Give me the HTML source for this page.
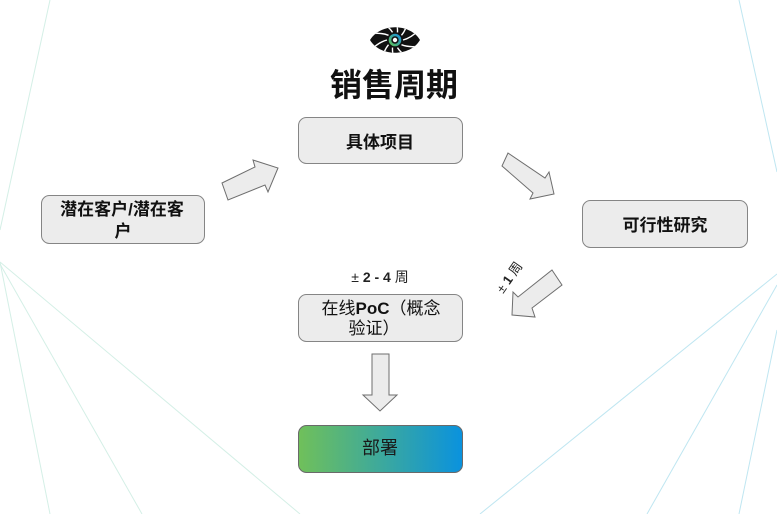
<!DOCTYPE html>
<html>
<head>
<meta charset="utf-8">
<style>
  html,body{margin:0;padding:0;background:#fff;}
  svg{display:block;}
  .t{font-family:"Liberation Sans","Noto Sans CJK SC",sans-serif;}
</style>
</head>
<body>
<svg width="777" height="514" viewBox="0 0 777 514" xmlns="http://www.w3.org/2000/svg">
  <defs>
    <linearGradient id="dep" x1="0" y1="0" x2="1" y2="0">
      <stop offset="0" stop-color="#70c05a"/>
      <stop offset="1" stop-color="#0a92de"/>
    </linearGradient>
    <linearGradient id="iris" x1="0" y1="1" x2="1" y2="0">
      <stop offset="0" stop-color="#5cc05a"/>
      <stop offset="1" stop-color="#1a90d8"/>
    </linearGradient>
    <clipPath id="eyeclip">
      <path d="M370 40 C380 23, 410 23, 420 40 C410 57, 380 57, 370 40 Z"/>
    </clipPath>
  </defs>

  <!-- background lines -->
  <g fill="none" stroke-width="1">
    <line x1="50" y1="0" x2="0" y2="230" stroke="#d4efe6"/>
    <line x1="0" y1="262" x2="50" y2="514" stroke="#d4efe6"/>
    <line x1="0" y1="264" x2="142" y2="514" stroke="#d4efe6"/>
    <line x1="0" y1="262" x2="300" y2="514" stroke="#d4efe6"/>
    <line x1="739" y1="0" x2="777" y2="172" stroke="#bfe6f1"/>
    <line x1="777" y1="274" x2="480" y2="514" stroke="#bfe6f1"/>
    <line x1="777" y1="285" x2="647" y2="514" stroke="#bfe6f1"/>
    <line x1="777" y1="330" x2="739" y2="514" stroke="#bfe6f1"/>
  </g>

  <!-- eye logo -->
  <g>
    <path d="M370 40 C380 23, 410 23, 420 40 C410 57, 380 57, 370 40 Z" fill="#111"/>
    <g clip-path="url(#eyeclip)" stroke="#fff" stroke-width="1.4" fill="none">
      <g transform="translate(395,40)">
        <path d="M8 0 Q16 -2 24 -10" transform="rotate(0)"/>
        <path d="M8 0 Q16 -2 24 -10" transform="rotate(36)"/>
        <path d="M8 0 Q16 -2 24 -10" transform="rotate(72)"/>
        <path d="M8 0 Q16 -2 24 -10" transform="rotate(108)"/>
        <path d="M8 0 Q16 -2 24 -10" transform="rotate(144)"/>
        <path d="M8 0 Q16 -2 24 -10" transform="rotate(180)"/>
        <path d="M8 0 Q16 -2 24 -10" transform="rotate(216)"/>
        <path d="M8 0 Q16 -2 24 -10" transform="rotate(252)"/>
        <path d="M8 0 Q16 -2 24 -10" transform="rotate(288)"/>
        <path d="M8 0 Q16 -2 24 -10" transform="rotate(324)"/>
      </g>
    </g>
    <circle cx="395" cy="40" r="7.5" fill="#111"/>
    <circle cx="395" cy="40" r="5" fill="none" stroke="url(#iris)" stroke-width="2.6"/>
    <circle cx="395" cy="40" r="2.2" fill="#fff"/>
  </g>

  <!-- title -->
  <text x="394" y="96" text-anchor="middle" class="t" font-size="32" font-weight="bold" fill="#111">销售周期</text>

  <!-- boxes -->
  <rect x="298.5" y="117.5" width="164" height="46" rx="8" fill="#ececec" stroke="#858585"/>
  <text x="380" y="148" text-anchor="middle" class="t" font-size="17" font-weight="bold" fill="#111">具体项目</text>

  <rect x="41.5" y="195.5" width="163" height="48" rx="8" fill="#ececec" stroke="#858585"/>
  <text x="122" y="215" text-anchor="middle" class="t" font-size="17" font-weight="bold" fill="#111">潜在客户/潜在客</text>
  <text x="123" y="237" text-anchor="middle" class="t" font-size="17" font-weight="bold" fill="#111">户</text>

  <rect x="582.5" y="200.5" width="165" height="47" rx="8" fill="#ececec" stroke="#858585"/>
  <text x="665" y="231" text-anchor="middle" class="t" font-size="17" font-weight="bold" fill="#111">可行性研究</text>

  <text x="380" y="282" text-anchor="middle" class="t" font-size="14" fill="#222">± <tspan font-weight="bold">2 - 4</tspan> 周</text>

  <rect x="298.5" y="294.5" width="164" height="47" rx="8" fill="#ececec" stroke="#858585"/>
  <text x="381" y="314" text-anchor="middle" class="t" font-size="17" fill="#111">在线<tspan font-weight="bold">PoC</tspan>（概念</text>
  <text x="374" y="334" text-anchor="middle" class="t" font-size="17" fill="#111">验证）</text>

  <rect x="298.5" y="425.5" width="164" height="47" rx="8" fill="url(#dep)" stroke="#6a6a6a"/>
  <text x="380" y="454" text-anchor="middle" class="t" font-size="18" fill="#1a1a1a">部署</text>

  <!-- arrows -->
  <g fill="#ececec" stroke="#6e6e6e" stroke-width="1" stroke-linejoin="miter">
    <polygon points="222,183 255,167 253,160 278,168 268,192 265,185 228,200"/>
    <polygon points="508,153 545,178 549,172 554,194 530,199 533,193 502,166"/>
    <polygon points="552,270 562,285 532,308 535,317 512,315 513,292 518,297"/>
    <polygon points="372,354 389,354 389,395 397,395 380,411 363,395 372,395"/>
  </g>

  <!-- ±1 周 label -->
  <text x="0" y="0" class="t" font-size="13" fill="#222" text-anchor="middle" transform="translate(513,280) rotate(-55)">± <tspan font-weight="bold">1</tspan> 周</text>
</svg>
</body>
</html>
